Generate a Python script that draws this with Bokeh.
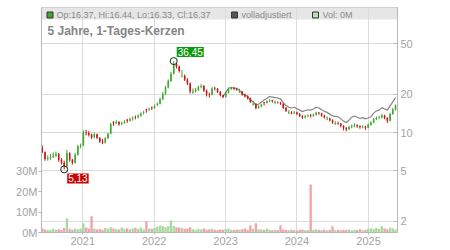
import math
import numpy as np
import pandas as pd
from bokeh.plotting import figure
from bokeh.models import (Range1d, LinearAxis, LinearScale, FixedTicker, PrintfTickFormatter,
                          DatetimeTickFormatter, BoxAnnotation, Label, ColumnDataSource)
from bokeh.embed import file_html
from bokeh.resources import INLINE

# ---------------- data (bi-weekly candles) ----------------
period_start = "2020-06-08"
open_ = [7.6, 7.0, 6.2, 6.3, 6.4, 6.6, 6.8, 6.1, 5.8, 5.4,
         6.9, 6.1, 5.8, 6.7, 7.8, 7.9, 10.0, 9.9, 9.6, 9.2,
         9.7, 9.1, 8.5, 8.3, 9.0, 9.8, 12.1, 11.9, 12.1, 11.6,
         11.9, 12.6, 12.4, 12.8, 13.3, 13.2, 13.6, 14.4, 15.2, 15.2,
         15.8, 15.6, 16.5, 16.8, 18.3, 20.2, 22.6, 25.4, 29.0, 34.5,
         33.0, 27.6, 28.0, 26.0, 24.3, 20.6, 21.0, 21.6, 22.8, 23.2,
         21.4, 20.0, 19.8, 22.2, 22.0, 20.8, 19.6, 19.0, 20.5, 22.0,
         22.3, 22.0, 20.7, 21.0, 19.8, 19.2, 18.6, 16.5, 16.8, 15.6,
         16.0, 17.3, 17.1, 17.6, 17.9, 17.0, 17.3, 17.2, 16.8, 15.6,
         14.2, 14.4, 14.2, 14.4, 14.0, 13.5, 13.1, 13.4, 13.6, 13.5,
         13.8, 14.3, 14.1, 13.6, 12.7, 12.9, 12.5, 11.7, 11.9, 11.8,
         11.3, 10.9, 10.6, 11.0, 11.2, 11.4, 11.2, 11.0, 11.1, 10.9,
         11.5, 12.0, 12.7, 13.0, 13.1, 13.6, 13.0, 12.4, 14.0, 15.2]
high = [7.9, 7.1, 6.6, 6.8, 7.0, 7.1, 6.9, 6.3, 6.0, 7.3,
        7.0, 6.2, 6.9, 8.0, 8.2, 10.4, 10.5, 10.3, 9.8, 10.0,
        9.8, 9.2, 8.9, 9.2, 10.0, 11.9, 12.3, 12.6, 12.3, 12.2,
        12.5, 12.8, 13.1, 13.4, 13.6, 13.9, 14.4, 14.8, 15.4, 15.7,
        16.0, 16.6, 17.2, 18.8, 20.8, 23.3, 26.2, 30.0, 36.45, 35.2,
        33.6, 31.0, 28.6, 26.8, 24.8, 22.2, 22.4, 23.4, 24.0, 23.6,
        21.8, 20.6, 22.8, 22.9, 22.4, 21.2, 19.8, 20.9, 22.6, 22.9,
        22.8, 22.5, 22.1, 21.2, 20.2, 19.6, 18.8, 17.6, 17.0, 16.3,
        16.8, 17.4, 17.9, 18.2, 18.1, 17.9, 17.6, 17.4, 17.0, 15.9,
        15.0, 14.7, 14.8, 14.6, 14.2, 13.7, 13.7, 13.9, 14.0, 14.1,
        14.6, 14.5, 14.3, 13.8, 13.4, 13.1, 12.7, 12.3, 12.2, 11.9,
        11.4, 11.0, 11.3, 11.6, 11.8, 11.6, 11.4, 11.4, 11.3, 11.8,
        12.3, 13.0, 13.4, 13.5, 14.0, 13.8, 13.2, 14.3, 15.6, 16.6]
low = [6.9, 6.0, 6.0, 6.1, 6.3, 6.4, 5.9, 5.6, 5.13, 5.3,
       5.9, 5.6, 5.7, 6.6, 7.5, 7.8, 9.5, 9.3, 8.9, 9.0,
       8.9, 8.3, 8.1, 8.2, 8.9, 9.7, 11.3, 11.6, 11.3, 11.4,
       11.7, 11.9, 12.2, 12.4, 12.7, 12.9, 13.3, 13.9, 14.3, 14.8,
       15.0, 15.4, 16.1, 16.6, 18.0, 19.8, 22.2, 25.0, 28.6, 31.8,
       29.6, 27.2, 25.4, 23.6, 20.2, 20.2, 20.6, 21.2, 22.2, 20.8,
       19.2, 18.8, 19.6, 21.4, 20.4, 19.2, 18.6, 18.9, 20.3, 21.6,
       21.5, 21.3, 20.5, 19.5, 18.9, 18.2, 17.1, 16.3, 15.2, 15.4,
       15.8, 16.3, 16.9, 17.3, 17.2, 16.9, 16.9, 16.5, 15.3, 14.5,
       14.0, 13.9, 14.0, 13.7, 13.2, 12.8, 12.9, 13.2, 13.1, 13.3,
       13.6, 13.8, 13.3, 12.9, 12.5, 12.2, 11.7, 11.5, 11.5, 11.0,
       10.4, 10.2, 10.5, 10.8, 11.0, 10.9, 10.7, 10.8, 10.5, 10.8,
       11.3, 11.8, 12.5, 12.7, 12.9, 12.7, 11.9, 12.2, 13.8, 14.9]
close = [7.0, 6.2, 6.3, 6.4, 6.6, 6.8, 6.1, 5.8, 5.4, 6.9,
         6.1, 5.8, 6.7, 7.8, 7.9, 10.0, 9.9, 9.6, 9.2, 9.7,
         9.1, 8.5, 8.3, 9.0, 9.8, 11.6, 11.9, 12.1, 11.6, 11.9,
         12.1, 12.4, 12.8, 12.9, 13.2, 13.6, 14.1, 14.5, 15.0, 15.3,
         15.6, 16.2, 16.8, 18.3, 20.2, 22.6, 25.4, 29.0, 34.5, 33.0,
         30.5, 28.0, 26.0, 24.3, 21.0, 21.0, 21.6, 22.8, 23.2, 21.4,
         20.0, 19.8, 22.2, 22.0, 20.8, 19.6, 19.0, 20.5, 22.0, 22.3,
         22.0, 21.8, 21.0, 19.8, 19.2, 18.6, 17.4, 16.8, 15.6, 16.0,
         16.5, 17.1, 17.6, 17.9, 17.6, 17.3, 17.2, 16.8, 15.6, 14.8,
         14.4, 14.2, 14.4, 14.0, 13.5, 13.1, 13.4, 13.6, 13.5, 13.8,
         14.3, 14.1, 13.6, 13.2, 12.9, 12.5, 12.0, 11.9, 11.8, 11.3,
         10.9, 10.6, 11.0, 11.2, 11.4, 11.2, 11.0, 11.1, 10.9, 11.5,
         12.0, 12.7, 13.0, 13.1, 13.6, 13.0, 12.4, 14.0, 15.2, 16.37]
volume_m = [2.0, 1.5, 1.2, 1.4, 1.8, 1.3, 1.6, 1.2, 2.2, 7.0,
            1.8, 1.4, 2.0, 1.6, 1.9, 4.5, 2.4, 1.8, 8.0, 2.0,
            1.5, 1.7, 1.3, 2.2, 1.8, 2.6, 1.9, 1.6, 1.5, 2.4,
            1.8, 2.1, 1.6, 1.9, 2.3, 1.7, 2.5, 1.6, 5.5, 2.0,
            1.8, 2.2, 2.8, 3.4, 3.2, 2.6, 3.0, 6.0, 3.2, 2.6,
            2.4, 2.2, 1.8, 2.0, 2.6, 1.6, 1.4, 1.8, 1.5, 2.0,
            1.4, 1.6, 1.8, 1.3, 1.2, 1.5, 1.4, 1.7, 1.9, 1.3,
            1.2, 1.5, 1.4, 1.6, 2.0, 1.3, 3.5, 1.8, 4.5, 1.6,
            1.5, 1.2, 1.8, 1.3, 1.1, 1.4, 1.2, 3.5, 1.5, 1.3,
            1.1, 1.4, 1.2, 1.0, 1.3, 1.5, 1.1, 1.2, 23.5, 1.4,
            1.6, 1.2, 1.1, 1.3, 1.0, 1.2, 3.0, 1.1, 1.3, 1.0,
            1.4, 1.2, 1.5, 1.1, 1.3, 1.2, 1.6, 1.1, 1.4, 1.8,
            2.0, 1.7, 2.2, 1.8, 3.0, 2.0, 1.6, 2.4, 1.9, 1.5]
adjusted_first = 66
adjusted = [19.2, 20.7, 22.3, 22.6,
            22.4, 22.2, 21.5, 20.3, 19.7, 19.2, 18.0, 17.5, 16.4, 16.7,
            17.3, 18.0, 18.6, 19.2, 19.0, 18.8, 18.7, 18.4, 17.2, 16.3,
            15.8, 15.6, 15.8, 15.4, 15.0, 14.6, 14.9, 15.1, 15.0, 15.3,
            15.8, 15.6, 15.1, 14.7, 14.4, 14.0, 13.5, 13.4, 13.3, 12.8,
            12.3, 12.0, 12.5, 13.2, 13.5, 13.2, 12.9, 13.1, 12.8, 13.0,
            13.3, 14.2, 14.8, 15.0, 15.7, 15.3, 15.0, 16.2, 17.4, 18.8]
year_ticks = [2021, 2022, 2023, 2024, 2025]
price_ticks = [2, 5, 10, 20, 50]
volume_ticks = [0, 10, 20, 30]
title_text = "5 Jahre, 1-Tages-Kerzen"
legend_texts = ["Op:16.37, Hi:16.44, Lo:16.33, Cl:16.37", "volladjustiert", "Vol: 0M"]

# ---------------- layout helpers ----------------
W, H = 450, 250
FL, FR, FT, FB = 41, 397, 7, 232
X0 = pd.Timestamp("2020-06-04").value / 1e6
X1 = pd.Timestamp("2025-05-29").value / 1e6
Y0, Y1 = 1.638, 96.1
DAY = 86400000.0


def at_px(px):
    return X0 + (px - FL) / (FR - FL) * (X1 - X0)


def at_py(py):
    lt, lb = math.log10(Y1), math.log10(Y0)
    return 10 ** (lt - (py - FT) / (FB - FT) * (lt - lb))


FONT = "Liberation Sans"
TICK_COL = "#a3a3a3"
AXIS_COL = "#b8b8b8"

dates = pd.date_range(period_start, periods=len(close), freq="14D")
up = [c >= o for o, c in zip(open_, close)]
candle_color = ["#3da82c" if u else "#c81414" for u in up]
vol_color = ["#a8daa0" if u else "#f2a2aa" for u in up]
src = ColumnDataSource(dict(date=dates, open=open_, high=high, low=low, close=close,
                            vol=volume_m, color=candle_color, vcolor=vol_color))

p = figure(width=W, height=H, x_axis_type="datetime", y_axis_type="log",
           x_range=Range1d(X0, X1), y_range=Range1d(Y0, Y1),
           y_axis_location="right", output_backend="svg", toolbar_location=None,
           min_border_left=FL, min_border_right=W - FR, min_border_top=FT,
           min_border_bottom=H - FB)
p.extra_y_ranges = {"vol": Range1d(0, 110)}
p.extra_y_scales = {"vol": LinearScale()}
p.outline_line_color = "#c8c8c8"
p.background_fill_color = "white"
p.border_fill_color = "white"

# header band
p.add_layout(BoxAnnotation(bottom=at_py(19), fill_color="#e6e6e6", fill_alpha=1.0,
                           line_color=None, level="image"))

# axes
price_ticker = FixedTicker(ticks=price_ticks)
p.yaxis.ticker = price_ticker
p.yaxis.formatter = PrintfTickFormatter(format="%d")
p.ygrid.ticker = price_ticker
p.yaxis.major_tick_in = 4
p.yaxis.major_tick_out = 0
p.yaxis.major_label_standoff = 3

year_ms = [pd.Timestamp(f"{y}-01-01").value / 1e6 for y in year_ticks]
xt = FixedTicker(ticks=year_ms)
p.xaxis.ticker = xt
p.xgrid.ticker = xt
p.xaxis.formatter = DatetimeTickFormatter(years="%Y", months="%Y", days="%Y", hours="%Y",
                                          minutes="%Y", seconds="%Y", milliseconds="%Y",
                                          microseconds="%Y", minsec="%Y", hourmin="%Y")
p.xaxis.major_tick_out = 2
p.xaxis.major_tick_in = 0
p.xaxis.major_label_standoff = 2

vax = LinearAxis(y_range_name="vol", ticker=FixedTicker(ticks=volume_ticks),
                 formatter=PrintfTickFormatter(format="%dM"))
vax.major_tick_out = 3
vax.major_tick_in = 0
vax.major_label_standoff = 1
p.add_layout(vax, "left")

for ax in p.axis:
    ax.axis_line_color = AXIS_COL
    ax.major_tick_line_color = AXIS_COL
    ax.minor_tick_line_color = None
    ax.major_label_text_color = TICK_COL
    ax.major_label_text_font = FONT
    ax.major_label_text_font_size = "11px"

p.grid.grid_line_color = "#dcdcdc"
p.grid.grid_line_width = 1

# volume
p.vbar(x="date", top="vol", bottom=0, width=12 * DAY, fill_color="vcolor",
       line_color=None, source=src, y_range_name="vol")

# adjusted line
p.line(dates[adjusted_first:adjusted_first + len(adjusted)], adjusted,
       line_color="#858585", line_width=1.2)

# candles
p.segment(x0="date", y0="low", x1="date", y1="high", line_color="color",
          line_width=1, source=src)
p.vbar(x="date", top="open", bottom="close", width=8 * DAY, fill_color="color",
       line_color=None, source=src)

# extremes
imax = int(np.argmax(high))
imin = int(np.argmin(low))
p.scatter([dates[imax], dates[imin]], [high[imax], low[imin]], marker="circle", size=7,
          fill_color=None, line_color="#222222", line_width=1)


def fmt(v):
    return f"{v:.2f}".replace(".", ",")


p.add_layout(Label(x=dates[imax].value / 1e6, y=high[imax], text=fmt(high[imax]),
                   x_offset=3, y_offset=4, text_align="left", text_baseline="bottom",
                   text_color="white", text_font=FONT, text_font_size="10px",
                   background_fill_color="#0c9a0c", padding=1))
p.add_layout(Label(x=dates[imin].value / 1e6, y=low[imin], text=fmt(low[imin]),
                   x_offset=3, y_offset=-4, text_align="left", text_baseline="top",
                   text_color="white", text_font=FONT, text_font_size="10px",
                   background_fill_color="#cc0000", padding=1))

# title
p.add_layout(Label(x=at_px(47), y=at_py(30), text=title_text, text_align="left",
                   text_baseline="middle", text_color="#858585", text_font=FONT,
                   text_font_size="12px", text_font_style="bold"))

# header legend
sq_px = [49.5, 234, 315]
sq_col = ["#3da82c", "#555555", "#b4e2b0"]
p.scatter([at_px(v) for v in sq_px], [at_py(14.5)] * 3, marker="square", size=6,
          fill_color=sq_col, line_color="#333333", line_width=1)
for tx, t in zip([56, 241, 322], legend_texts):
    p.add_layout(Label(x=at_px(tx), y=at_py(14.3), text=t, text_align="left",
                       text_baseline="middle", text_color="#8a8a8a", text_font=FONT,
                       text_font_size="9px"))

open("out.html", "w").write(file_html(p, INLINE))
